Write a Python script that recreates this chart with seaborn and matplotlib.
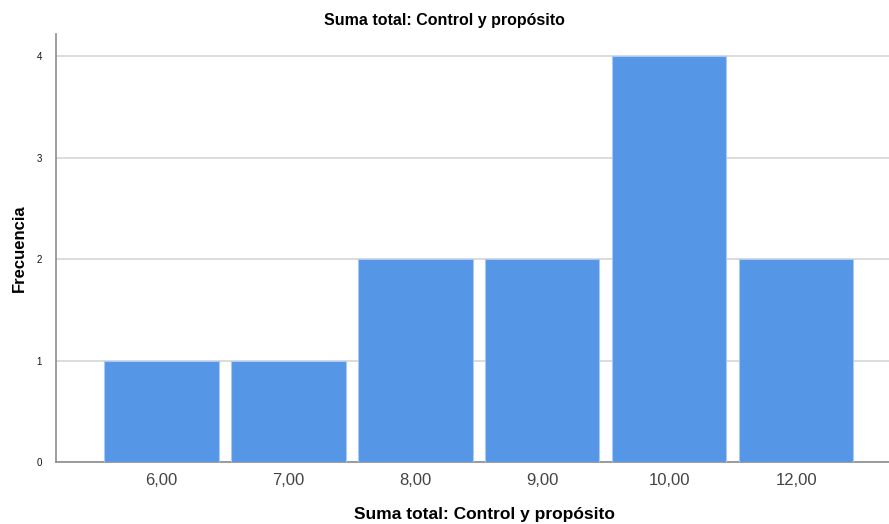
import matplotlib
matplotlib.use("Agg")
import matplotlib.pyplot as plt
import seaborn as sns
import pandas as pd

# Values
categorias = ["6,00", "7,00", "8,00", "9,00", "10,00", "12,00"]
frecuencia = [1, 1, 2, 2, 4, 2]

df = pd.DataFrame({"Suma": categorias, "Frecuencia": frecuencia})

sns.set_style("white")
plt.rcParams["font.family"] = ["Liberation Sans", "DejaVu Sans"]

fig = plt.figure(figsize=(8.89, 5.24), dpi=100)
ax = fig.add_axes([56 / 889, 1 - 462 / 524, (889 - 56) / 889, (462 - 34) / 524])

sns.barplot(df, x="Suma", y="Frecuencia", order=categorias, color="#5596E6",
            saturation=1, width=0.9, edgecolor="#a9c9f2", linewidth=0.8,
            ax=ax, zorder=3)

ax.set_xlim(-0.83, 5.73)
ax.set_ylim(0, 4.22)
ax.set_yticks([0, 1, 2, 3, 4])
ax.yaxis.grid(True, color="#d6d6d6", linewidth=1.2, zorder=0)
ax.set_axisbelow(True)

for side in ["top", "right"]:
    ax.spines[side].set_visible(False)
for side in ["left", "bottom"]:
    ax.spines[side].set_color("#8c8c8c")
    ax.spines[side].set_linewidth(1.2)

ax.tick_params(axis="y", length=0, labelsize=7, pad=10, labelcolor="#111111")
ax.tick_params(axis="x", length=0, labelsize=12, pad=8, labelcolor="#444444")

ax.set_xlabel("")
ax.set_ylabel("")
fig.text((352 + 617) / 2 / 889, 1 - 514 / 524, "Suma total: Control y propósito",
         ha="center", va="center", fontsize=12.5, fontweight="bold", color="black")
fig.text(19 / 889, 1 - 248 / 524, "Frecuencia", rotation=90,
         ha="center", va="center", fontsize=12, fontweight="bold", color="black")
fig.text((323 + 565) / 2 / 889, 1 - 20 / 524, "Suma total: Control y propósito",
         ha="center", va="center", fontsize=11.5, fontweight="bold", color="black")

fig.savefig("out.png", dpi=100)
